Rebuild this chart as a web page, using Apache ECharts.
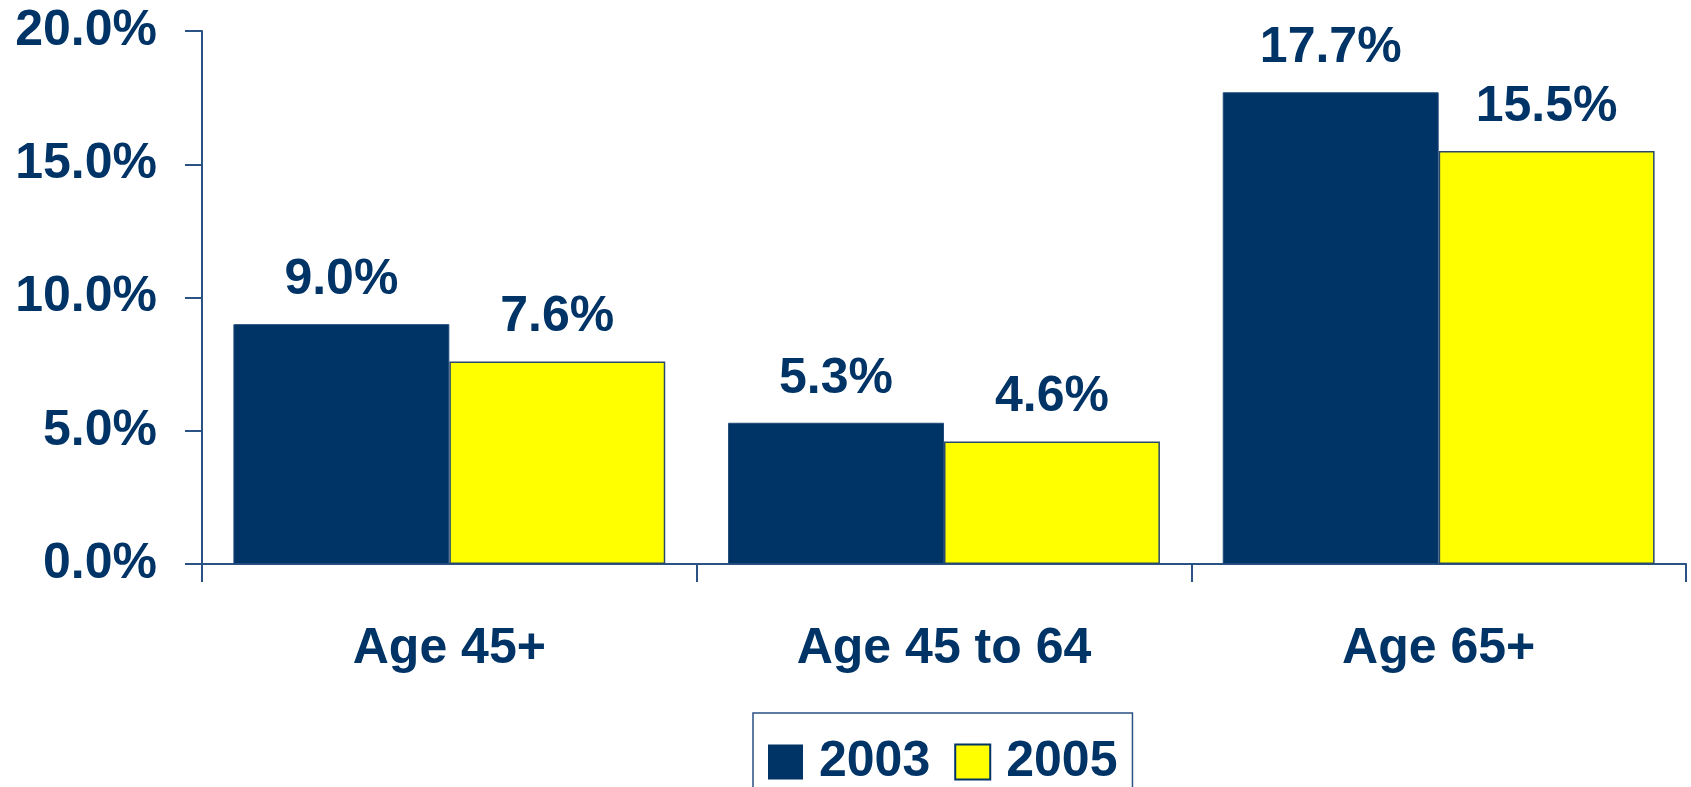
<!DOCTYPE html>
<html>
<head>
<meta charset="utf-8">
<script src="https://cdn.jsdelivr.net/npm/echarts@6/dist/echarts.min.js"></script>
<style>html,body{margin:0;padding:0;background:#fff}#c{width:1691px;height:787px}</style>
</head>
<body>
<div id="c"></div>
<script>
const categories = ['Age 45+', 'Age 45 to 64', 'Age 65+'];
const seriesNames = ['2003', '2005'];
const values2003 = [9.0, 5.3, 17.7];
const values2005 = [7.6, 4.6, 15.5];
const yTicks = [0, 5, 20];

const NAVY = '#003366';
const AXIS = '#2a5285';
const FONT = '"Liberation Sans", Arial, sans-serif';

const chart = echarts.init(document.getElementById('c'), null, {renderer: 'canvas'});
const labelCfg = {
  show: true, position: 'top', distance: 19,
  color: NAVY, fontFamily: FONT, fontWeight: 'bold', fontSize: 50,
  formatter: p => p.value.toFixed(1) + '%'
};
chart.setOption({
  animation: false,
  grid: {left: 202, right: 5, top: 31, bottom: 223, containLabel: false},
  legend: {
    left: 753, top: 713,
    padding: [24, 15, 30, 15],
    borderColor: AXIS, borderWidth: 1.5,
    itemWidth: 35, itemHeight: 35, itemGap: 24,
    textStyle: {color: NAVY, fontFamily: FONT, fontWeight: 'bold', fontSize: 50, padding: [0, 0, 0, 11]},
    data: [
      {name: seriesNames[0], icon: 'rect', itemStyle: {color: NAVY, borderWidth: 0}},
      {name: seriesNames[1], icon: 'rect', itemStyle: {color: '#ffff00', borderColor: NAVY, borderWidth: 2}}
    ]
  },
  xAxis: {
    type: 'category', data: categories,
    axisLine: {lineStyle: {color: AXIS, width: 2}},
    axisTick: {show: true, length: 18, lineStyle: {color: AXIS, width: 2}},
    axisLabel: {color: NAVY, fontFamily: FONT, fontWeight: 'bold', fontSize: 50, margin: 60}
  },
  yAxis: {
    type: 'value', min: yTicks[0], max: yTicks[2], interval: yTicks[1],
    axisLine: {show: true, lineStyle: {color: AXIS, width: 2}},
    axisTick: {show: true, length: 17, lineStyle: {color: AXIS, width: 2}},
    splitLine: {show: false},
    axisLabel: {color: NAVY, fontFamily: FONT, fontWeight: 'bold', fontSize: 50, margin: 45,
      formatter: v => v.toFixed(1) + '%'}
  },
  series: [
    {name: seriesNames[0], type: 'bar', data: values2003, barGap: '0%', barCategoryGap: '12.7%',
      itemStyle: {color: NAVY, borderColor: '#1f4a7a', borderWidth: 1}, label: labelCfg},
    {name: seriesNames[1], type: 'bar', data: values2005, barGap: '0%', barCategoryGap: '12.7%',
      itemStyle: {color: '#ffff00', borderColor: '#2a4a6a', borderWidth: 1.5}, label: labelCfg}
  ]
});
</script>
</body>
</html>
